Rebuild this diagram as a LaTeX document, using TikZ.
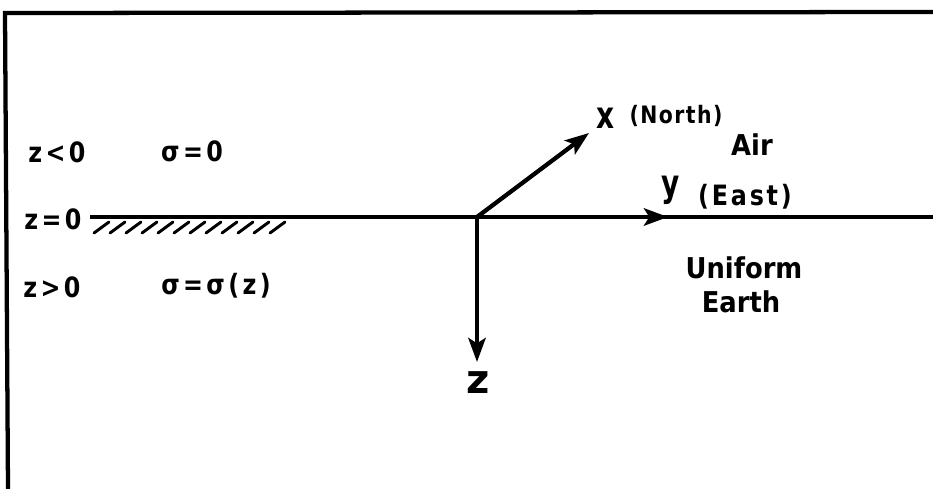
\documentclass[tikz,border=0pt]{standalone}
\usepackage{fontspec}
\setmainfont{DejaVu Sans}
\newfontfamily\lfont[FakeStretch=0.85,LetterSpace=12]{DejaVu Sans Bold}
\newfontfamily\bfont[FakeStretch=0.9]{DejaVu Sans Bold}
\newfontfamily\pfont[FakeStretch=0.85,LetterSpace=6]{DejaVu Sans Bold}
\newfontfamily\efont[FakeStretch=0.85,LetterSpace=10]{DejaVu Sans Bold}
\newfontfamily\afont[FakeStretch=0.75]{DejaVu Sans Bold}
\newfontfamily\zfont{DejaVu Sans Bold}
\usetikzlibrary{arrows.meta}
\tikzset{
  frame/.style={line width=3.2pt, line cap=round},
  axis/.style={line width=3.2pt, -{Stealth[length=18pt,width=13pt,inset=4pt]}},
  hatch/.style={line width=2.2pt, line cap=round},
  lbl/.style={inner sep=0pt, font=\lfont\fontsize{21}{24}\selectfont},
  big/.style={inner sep=0pt, font=\bfont\fontsize{21.5}{25}\selectfont},
  mid/.style={inner sep=0pt, font=\pfont\fontsize{18}{21}\selectfont},
  eas/.style={inner sep=0pt, font=\efont\fontsize{21}{24}\selectfont},
  axl/.style={inner sep=0pt, font=\afont\fontsize{28}{32}\selectfont},
  zax/.style={inner sep=0pt, font=\zfont\fontsize{30}{34}\selectfont},
}
\begin{document}
\begin{tikzpicture}[x=0.75pt,y=-0.75pt]
\useasboundingbox (0,0) rectangle (933,489);
% frame
\coordinate (tl) at (5,13);
\coordinate (tr) at (933,12);
\coordinate (bl) at (8,489);
\draw[frame] (bl) -- (tl) -- (tr);
% surface
\coordinate (s0) at (90,217);
\coordinate (s1) at (933,217);
\coordinate (O) at (477,217);
\draw[line width=3.2pt] (s0) -- (s1);
% hatching
\foreach \i in {0,...,11}{
  \draw[hatch] (94+16*\i,233) -- (109+16*\i,222);
}
% axes
\coordinate (xt) at (589,133);
\coordinate (yt) at (668,217);
\coordinate (zt) at (477,362);
\draw[axis] (O) -- (xt);
\draw[axis] (O) -- (yt);
\draw[axis] (O) -- (zt);
% labels
\node[lbl] (zlt) at (57,152) {z<0};
\node[lbl] (sig0) at (192,151) {σ=0};
\node[lbl] (zeq) at (53,219) {z=0};
\node[lbl] (zgt) at (52,287) {z>0};
\node[lbl] (sigz) at (216,286) {σ=σ(z)};
\node[axl] (xl) at (606,118) {x};
\node[mid] (north) at (676,116) {(North)};
\node[big] (air) at (752,145) {Air};
\node[axl] (yl) at (671,190) {y};
\node[eas] (east) at (745,197) {(East)};
\node[big] (uni) at (744,268) {Uniform};
\node[big] (earth) at (741,302) {Earth};
\node[zax] (zl) at (478,383) {z};
\end{tikzpicture}
\end{document}
